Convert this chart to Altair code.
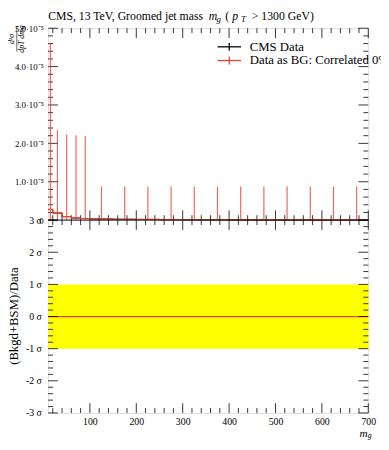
import altair as alt
import pandas as pd

# ---------------- data ----------------
bin_edges = [10, 20, 40, 60, 80, 100, 150, 200, 250, 300, 350, 400, 450, 500, 550, 600, 650, 700]
cms_data = [2.75e-6, 1.85e-6, 0.90e-6, 0.55e-6, 0.42e-6, 0.30e-6, 0.22e-6, 0.17e-6, 0.13e-6,
            0.10e-6, 0.085e-6, 0.07e-6, 0.06e-6, 0.05e-6, 0.045e-6, 0.04e-6, 0.035e-6]
cms_err = [0.06e-6, 0.04e-6, 0.03e-6, 0.02e-6, 0.02e-6, 0.01e-6, 0.01e-6, 0.01e-6, 0.01e-6,
           0.01e-6, 0.01e-6, 0.01e-6, 0.01e-6, 0.01e-6, 0.01e-6, 0.01e-6, 0.01e-6]
bg_data = [2.80e-6, 1.90e-6, 0.90e-6, 0.55e-6, 0.42e-6, 0.30e-6, 0.22e-6, 0.17e-6, 0.13e-6,
           0.10e-6, 0.085e-6, 0.07e-6, 0.06e-6, 0.05e-6, 0.045e-6, 0.04e-6, 0.035e-6]
bg_upper = [4.59e-5, 2.35e-5, 2.23e-5, 2.21e-5, 2.19e-5, 0.875e-5, 0.875e-5, 0.875e-5, 0.875e-5,
            0.875e-5, 0.875e-5, 0.875e-5, 0.875e-5, 0.875e-5, 0.875e-5, 0.875e-5, 0.875e-5]

pull_band = [-1, 1]
pull_line = [0]

x_major = [100, 200, 300, 400, 500, 600, 700]
x_minor = [v for v in range(20, 700, 20) if v % 100 != 0]
ytop_major = [0, 1e-5, 2e-5, 3e-5, 4e-5, 5e-5]
ytop_minor = [i * 2e-6 for i in range(1, 25) if i % 5 != 0]
ybot_major = [-3, -2, -1, 0, 1, 2, 3]
ybot_minor = [i / 5 for i in range(-14, 15) if i % 5 != 0]

title_parts = ["CMS, 13 TeV, Groomed jet mass ", "m", "g", "(", "p", "T", "> 1300 GeV)"]
legend_labels = ["CMS Data", "Data as BG: Correlated 0%"]
ytop_title = ["d²σ", "dpT dmg"]
ybot_title = "(Bkgd+BSM)/Data"
x_title = ["m", "g"]

# ---------------- layout / style ----------------
RED = "#e8432e"
FONT = "Liberation Serif"
W, H1, H2 = 327, 196, 197
H = H1 + H2
PAD = {"left": 41, "top": 16, "right": 13, "bottom": 25}

xscale = alt.Scale(domain=[10, 700], nice=False, zero=False)
ytop_scale = alt.Scale(domain=[0, 5e-5], nice=False, zero=False, range=[H1, 0], clamp=True)
ybot_scale = alt.Scale(domain=[-3, 3], nice=False, zero=False, range=[H, H1], clamp=True)

ytop_axis = alt.Axis(orient="left", values=ytop_major, ticks=False, domain=False, grid=False, title=None,
                     labelFont=FONT, labelFontSize=9, labelPadding=5, labelOverlap=False,
                     labelColor="black",
                     labelExpr="datum.value == 0 ? '0' : format(datum.value*1e5, '.1f') + '·10⁻⁵'")
ybot_axis = alt.Axis(orient="left", values=ybot_major, ticks=False, domain=False, grid=False, title=None,
                     labelFont=FONT, labelFontSize=10, labelPadding=7, labelOverlap=False,
                     labelColor="black", labelExpr="datum.value + ' σ'")
x_axis = alt.Axis(orient="bottom", values=x_major, ticks=False, domain=False, grid=False, title=None,
                  labelFont=FONT, labelFontSize=10, labelPadding=4, labelOverlap=False,
                  labelColor="black", labelFlush=False, format="d")


def X(field):
    return alt.X(field, type="quantitative", scale=xscale, axis=x_axis)


def YT(field):
    return alt.Y(field, type="quantitative", scale=ytop_scale, axis=ytop_axis)


def YB(field):
    return alt.Y(field, type="quantitative", scale=ybot_scale, axis=ybot_axis)


# ---------------- tables ----------------
lo = bin_edges[:-1]
hi = bin_edges[1:]
hist = pd.DataFrame({
    "lo": lo, "hi": hi,
    "c": [(a + b) / 2 for a, b in zip(lo, hi)],
    "cms": cms_data, "cms_err": cms_err,
    "bg": bg_data, "bg_up": bg_upper,
})
hist["cms_lo"] = hist["cms"] - hist["cms_err"]
hist["cms_hi"] = hist["cms"] + hist["cms_err"]
hist["bg_lo"] = hist["bg"] - (hist["bg_up"] - hist["bg"])

step_cms = pd.DataFrame({"x": bin_edges, "y": cms_data + [cms_data[-1]]})
step_bg = pd.DataFrame({"x": bin_edges, "y": bg_data + [bg_data[-1]]})


def edge_ticks(yenc_fn, ymaj, ymin, y_top, y_bot):
    layers = []
    for vals, L in [(x_major, 10), (x_minor, 5)]:
        d = pd.DataFrame({"t": vals})
        base = alt.Chart(d).mark_rule(color="black", strokeWidth=0.8)
        layers.append(base.encode(x=X("t"), y=alt.value(y_bot), y2=alt.value(y_bot - L)))
        layers.append(base.encode(x=X("t"), y=alt.value(y_top), y2=alt.value(y_top + L)))
    for vals, L in [(ymaj, 10), (ymin, 5)]:
        d = pd.DataFrame({"t": vals})
        base = alt.Chart(d).mark_rule(color="black", strokeWidth=0.8)
        layers.append(base.encode(y=yenc_fn("t"), x=alt.value(0), x2=alt.value(L)))
        layers.append(base.encode(y=yenc_fn("t"), x=alt.value(W), x2=alt.value(W - L)))
    return layers


def txt(s, x, y, size=12, style="normal", align="left", angle=0, baseline="middle", color="black"):
    return alt.Chart(pd.DataFrame({"s": [s]})).mark_text(
        font=FONT, fontSize=size, fontStyle=style, align=align, baseline=baseline,
        angle=angle, color=color
    ).encode(text="s:N", x=alt.value(x), y=alt.value(y))


# ---------------- top panel ----------------
top_layers = edge_ticks(YT, ytop_major, ytop_minor, 0, H1)
top_layers += [
    alt.Chart(step_cms).mark_line(interpolate="step-after", color="black", strokeWidth=1)
    .encode(x=X("x"), y=YT("y")),
    alt.Chart(hist).mark_rule(color="black", strokeWidth=1)
    .encode(x=X("c"), y=YT("cms_lo"), y2="cms_hi"),
    alt.Chart(hist).mark_rule(color=RED, strokeWidth=1.2, opacity=0.8)
    .encode(x=X("c"), y=YT("bg_lo"), y2="bg_up"),
    alt.Chart(step_bg).mark_line(interpolate="step-after", color=RED, strokeWidth=1.2)
    .encode(x=X("x"), y=YT("y")),
]

# legend
leg_x0, leg_x1, leg_tx = 173, 197, 206
for i, (lab, col) in enumerate(zip(legend_labels, ["black", RED])):
    yy = 19 + 14 * i
    d = pd.DataFrame({"s": [lab]})
    top_layers.append(alt.Chart(d).mark_rule(color=col, strokeWidth=1.3)
                      .encode(x=alt.value(leg_x0), x2=alt.value(leg_x1), y=alt.value(yy)))
    top_layers.append(alt.Chart(d).mark_rule(color=col, strokeWidth=1.3)
                      .encode(x=alt.value((leg_x0 + leg_x1) / 2), y=alt.value(yy - 4), y2=alt.value(yy + 4)))
    top_layers.append(txt(lab, leg_tx, yy, size=13))

# title
tx = [0, 164, 172, 181, 188, 197, 208]
for s, x in zip(title_parts, tx):
    if s in ("g", "T"):
        top_layers.append(txt(s, x, -6, size=9, style="italic", baseline="alphabetic"))
    elif s in ("m", "p"):
        top_layers.append(txt(s, x, -8.5, size=12, style="italic", baseline="alphabetic"))
    else:
        top_layers.append(txt(s, x, -8.5, size=12, baseline="alphabetic"))

# y title (fraction)
top_layers.append(txt(ytop_title[0], -41, 11, size=8, style="italic", align="center", angle=270, baseline="top"))
top_layers.append(alt.Chart(pd.DataFrame({"s": [0]})).mark_rule(color="black", strokeWidth=0.6)
                  .encode(x=alt.value(-32), y=alt.value(-2), y2=alt.value(24)))
top_layers.append(txt(ytop_title[1], -31, 11, size=8, style="italic", align="center", angle=270, baseline="top"))

# separator between the panels
top_layers.append(alt.Chart(pd.DataFrame({"s": [0]})).mark_rule(color="black", strokeWidth=1)
                  .encode(x=alt.value(0), x2=alt.value(W), y=alt.value(H1)))

top = alt.layer(*top_layers)

# ---------------- bottom panel ----------------
band = pd.DataFrame({"x": [10], "x2": [700], "y": [pull_band[0]], "y2": [pull_band[1]]})
zline = pd.DataFrame({"y": pull_line})
bot_layers = [
    alt.Chart(band).mark_rect(color="#ffff00")
    .encode(x=X("x"), x2="x2", y=YB("y"), y2="y2"),
    alt.Chart(zline).mark_rule(color=RED, strokeWidth=1.3)
    .encode(y=YB("y"), x=alt.value(0), x2=alt.value(W)),
]
bot_layers += edge_ticks(YB, ybot_major, ybot_minor, H1, H)
bot_layers.append(txt(ybot_title, -41, H1 + 98, size=13, align="center", angle=270, baseline="top"))
bot_layers.append(txt(x_title[0], 318, H + 21.5, size=11.5, style="italic"))
bot_layers.append(txt(x_title[1], 326.5, H + 23.5, size=8, style="italic"))

bottom = alt.layer(*bot_layers)

chart = (
    alt.layer(top, bottom)
    .resolve_scale(y="independent")
    .resolve_axis(y="independent")
    .properties(width=W, height=H, padding=PAD, autosize=alt.AutoSizeParams(type="none"))
    .configure_view(stroke="black", strokeWidth=1)
    .configure(font=FONT, background="white")
)

chart.save("out.html", embed_options={"renderer": "svg", "actions": False})
